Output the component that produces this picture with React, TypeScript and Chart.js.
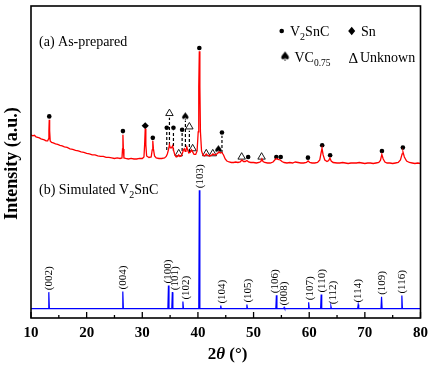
import React, { useEffect, useRef } from 'react';
import { Chart, registerables } from 'chart.js';
Chart.register(...registerables);

// ---------- DATA ----------
const redTheta = [
  10.0, 10.3, 10.6, 10.9, 11.2, 11.5, 11.8, 12.1, 12.4, 12.7, 13.0, 13.15, 13.22, 13.28, 13.35, 13.45, 13.7, 14.0, 14.4, 14.8,
  15.2, 15.6, 16.0, 16.5, 17.0, 17.5, 18.0, 18.5, 19.0, 19.5, 20.0, 20.5, 21.0, 21.5, 22.0, 22.5, 23.0, 23.5, 24.0, 24.5,
  25.0, 25.5, 26.0, 26.35, 26.45, 26.52, 26.6, 26.7, 27.0, 27.5, 28.0, 28.5, 29.0, 29.5, 30.0, 30.3, 30.42, 30.53, 30.64, 30.78,
  31.2, 31.6, 31.78, 31.89, 32.0, 32.2, 32.5, 33.0, 33.5, 34.0, 34.3, 34.5, 34.7, 34.88, 35.05, 35.25, 35.45, 35.65, 35.85, 36.1,
  36.35, 36.55, 36.75, 37.0, 37.2, 37.4, 37.55, 37.7, 37.85, 38.0, 38.15, 38.35, 38.6, 38.85, 39.05, 39.3, 39.6, 39.85, 40.05, 40.15,
  40.25, 40.35, 40.45, 40.65, 40.9, 41.2, 41.5, 41.75, 42.1, 42.4, 42.7, 42.95, 43.3, 43.6, 43.8, 44.0, 44.3, 44.6, 44.9, 45.2,
  45.6, 46.0, 46.4, 46.8, 47.2, 47.6, 47.9, 48.2, 48.5, 48.8, 49.1, 49.5, 50.0, 50.5, 51.0, 51.3, 51.5, 51.7, 52.0, 52.5,
  53.0, 53.5, 53.8, 54.1, 54.4, 54.8, 55.1, 55.5, 56.0, 56.5, 57.0, 57.5, 58.0, 58.5, 59.0, 59.5, 59.8, 60.1, 60.5, 61.0,
  61.5, 61.9, 62.1, 62.3, 62.5, 62.8, 63.2, 63.5, 63.72, 63.95, 64.3, 65.0, 65.5, 66.0, 66.5, 67.0, 67.5, 68.0, 68.5, 69.0,
  69.5, 70.0, 70.5, 71.0, 71.5, 72.0, 72.5, 72.8, 73.05, 73.3, 73.6, 74.0, 74.5, 75.0, 75.5, 76.0, 76.4, 76.7, 76.85, 77.1,
  77.5, 78.0, 78.5, 79.0, 79.5, 80.0,
];
const redIntensity = [
  182, 181, 181.5, 180, 179.5, 179, 178, 177.5, 177, 176, 176, 178, 186, 197, 186, 176, 174.5, 174, 173, 172.5,
  171.5, 171, 170, 169.5, 168, 167.5, 166.5, 166, 165, 164.5, 163.5, 163, 162, 162, 161, 160.5, 160.5, 159.5, 159.5, 159,
  158.5, 159, 158.5, 159, 168, 182, 168, 159, 158.5, 158, 158.5, 158, 158, 158.5, 158.5, 160, 172, 188, 172, 161,
  159.5, 160, 167, 176, 168, 161, 159, 158.5, 158.5, 159, 160.5, 163, 167, 172, 169, 169, 171, 166, 162, 160,
  160.5, 162, 160.5, 161, 163.5, 167, 168, 165.5, 167, 170, 167, 164, 164.5, 167, 165, 162.5, 162.5, 166, 185, 230,
  265, 230, 185, 166, 162, 161, 163, 161.5, 161, 161.5, 163, 162, 162.5, 164, 165, 164, 164.5, 162, 158, 156,
  155, 154.5, 154.5, 155, 154.5, 155, 157, 155.5, 155.5, 156.5, 155, 154.5, 154.5, 154, 154.5, 155.5, 158, 155.5, 154.5, 154,
  154, 155, 157, 158.5, 157.5, 157, 155.5, 154.5, 154, 154.5, 154, 155, 154.5, 154, 154, 154.5, 156, 154.5, 154, 154,
  154.5, 157, 163, 168.5, 162, 157, 155.5, 156.5, 159, 156, 154.5, 154, 154, 154.5, 154, 153.5, 154, 154, 154, 154.5,
  154, 153.5, 154, 154, 153.5, 154, 154.5, 156.5, 162.5, 158, 155, 154, 154, 153.5, 154, 154.5, 157, 163, 165, 160,
  156, 154.5, 154, 153.5, 154, 153.5,
];

const simBaseline = 9.3;
const simTheta = [13.2, 26.5, 34.7, 35.4, 37.3, 40.25, 44.1, 48.8, 54.1, 55.5, 59.9, 62.15, 63.9, 68.8, 73.0, 76.65];
const simIntensity = [25.7, 26.3, 32.3, 25.7, 16.3, 127, 12.3, 13.3, 22.7, 10.5, 15.7, 23.3, 11.7, 13.3, 21, 22.3];
const simLabels = ['(002)', '(004)', '(100)', '(101)', '(102)', '(103)', '(104)', '(105)', '(106)', '(008)', '(107)', '(110)', '(112)', '(114)', '(109)', '(116)'];
const simLabelTheta = [13.2, 26.5, 34.58, 35.78, 37.87, 40.25, 44.19, 48.85, 53.81, 55.47, 60.07, 62.15, 64.12, 68.72, 72.96, 76.65];

const v2sncTheta = [13.28, 26.52, 31.89, 34.4, 35.6, 37.16, 40.25, 44.32, 49.03, 54.09, 54.88, 59.77, 62.33, 63.76, 73.07, 76.83];
const v2sncY = [200.3, 185.7, 179, 189, 189, 187, 268.3, 184.3, 160, 160, 160, 159.3, 171.7, 161.7, 166, 169.3];
const snTheta = [30.53];
const snY = [191];
const vcTheta = [37.75, 43.7];
const vcY = [200, 167.3];
const unknownTheta = [34.88, 36.55, 38.46, 39.05, 41.5, 42.67, 47.86, 51.44];
const unknownY = [203.3, 163.3, 190, 168.3, 163.3, 163.3, 160, 160];

const leaderTheta = [34.4, 34.88, 35.6, 37.16, 37.75, 38.46, 44.32];
const leaderFrom = [167, 172, 166, 166, 170, 165, 164];
const leaderTo = [186, 199, 186, 184, 196, 186, 181];

const xTicks = [10, 20, 30, 40, 50, 60, 70, 80];
const xMinorTicks = [15, 25, 35, 45, 55, 65, 75];

// ---------- HELPERS ----------
const SERIF = '"Liberation Serif", "Times New Roman", serif';

function makeSpade(size: number): HTMLCanvasElement {
  const c = document.createElement('canvas');
  c.width = size;
  c.height = size;
  const g = c.getContext('2d')!;
  g.fillStyle = '#000';
  g.font = `${size}px "DejaVu Sans"`;
  g.textAlign = 'center';
  g.textBaseline = 'middle';
  g.fillText('\u2660', size / 2, size / 2 + 0.5);
  return c;
}

type Part = { t: string; font: string; dy?: number };
function drawParts(ctx: CanvasRenderingContext2D, parts: Part[], x: number, y: number) {
  let cx = x;
  for (const p of parts) {
    ctx.font = p.font;
    ctx.fillText(p.t, cx, y + (p.dy || 0));
    cx += ctx.measureText(p.t).width;
  }
  return cx - x;
}
function measureParts(ctx: CanvasRenderingContext2D, parts: Part[]) {
  let w = 0;
  for (const p of parts) {
    ctx.font = p.font;
    w += ctx.measureText(p.t).width;
  }
  return w;
}

export default function App() {
  const ref = useRef<HTMLCanvasElement>(null);

  useEffect(() => {
    document.body.style.margin = '0';
    const canvas = ref.current!;
    const spade = makeSpade(11);
    const spadeLegend = makeSpade(13);

    const redData = redTheta.map((t, i) => ({ x: t, y: redIntensity[i] }));
    const blueData: { x: number; y: number }[] = [{ x: 10, y: simBaseline }];
    simTheta.forEach((t, i) => {
      blueData.push({ x: t - 0.1, y: simBaseline });
      blueData.push({ x: t, y: simIntensity[i] });
      blueData.push({ x: t + 0.1, y: simBaseline });
    });
    blueData.push({ x: 80, y: simBaseline });

    const leaderSets = leaderTheta.map((t, i) => ({
      type: 'line' as const,
      data: [
        { x: t, y: leaderFrom[i] },
        { x: t, y: leaderTo[i] },
      ],
      borderColor: '#000',
      borderWidth: 1.2,
      borderDash: [3, 2],
      pointRadius: 0,
      fill: false,
    }));

    const decor = {
      id: 'decor',
      afterDatasetsDraw(chart: any) {
        const ctx: CanvasRenderingContext2D = chart.ctx;
        const { left, right, top, bottom } = chart.chartArea;
        const xs = chart.scales.x;
        const ys = chart.scales.y;
        ctx.save();
        ctx.fillStyle = '#000';
        ctx.strokeStyle = '#000';

        // Simulated peak labels (rotated)
        ctx.font = `11px ${SERIF}`;
        ctx.textAlign = 'left';
        ctx.textBaseline = 'middle';
        simLabels.forEach((lab, i) => {
          const x = xs.getPixelForValue(simLabelTheta[i]);
          const y = ys.getPixelForValue(simIntensity[i]) - 2;
          ctx.save();
          ctx.translate(x, y);
          ctx.rotate(-Math.PI / 2);
          ctx.fillText(lab, 0, 0.5);
          ctx.restore();
        });

        // frame
        ctx.lineWidth = 1.6;
        ctx.strokeRect(left, top, right - left, bottom - top);

        // inward ticks
        ctx.lineWidth = 1.3;
        ctx.beginPath();
        xTicks.forEach((v) => {
          const x = xs.getPixelForValue(v);
          ctx.moveTo(x, bottom);
          ctx.lineTo(x, bottom - 6);
        });
        xMinorTicks.forEach((v) => {
          const x = xs.getPixelForValue(v);
          ctx.moveTo(x, bottom);
          ctx.lineTo(x, bottom - 3);
        });
        ctx.stroke();

        // panel labels
        ctx.textAlign = 'left';
        ctx.textBaseline = 'alphabetic';
        const f14 = `14px ${SERIF}`;
        const f10 = `10px ${SERIF}`;
        drawParts(ctx, [{ t: '(a) As-prepared', font: f14 }], 39, 45.5);
        drawParts(ctx, [
          { t: '(b) Simulated V', font: f14 },
          { t: '2', font: f10, dy: 3.5 },
          { t: 'SnC', font: f14 },
        ], 39, 194);

        // legend
        ctx.beginPath();
        ctx.arc(281.7, 31, 2.3, 0, Math.PI * 2);
        ctx.fill();
        drawParts(ctx, [
          { t: 'V', font: f14 },
          { t: '2', font: f10, dy: 4 },
          { t: 'SnC', font: f14 },
        ], 290, 35.5);
        ctx.beginPath();
        ctx.moveTo(351.7, 26.8);
        ctx.lineTo(355.2, 31);
        ctx.lineTo(351.7, 35.2);
        ctx.lineTo(348.2, 31);
        ctx.closePath();
        ctx.fill();
        drawParts(ctx, [{ t: 'Sn', font: f14 }], 361, 35.5);

        ctx.drawImage(spadeLegend, 285 - 6.5, 57.3 - 6.5);
        drawParts(ctx, [
          { t: 'VC', font: f14 },
          { t: '0.75', font: `9.5px ${SERIF}`, dy: 3.5 },
        ], 294.5, 62.3);
        drawParts(ctx, [{ t: '\u0394', font: `15px ${SERIF}` }], 348.5, 62.5);
        drawParts(ctx, [{ t: 'Unknown', font: f14 }], 360, 62.3);

        // axis titles
        const tf = `bold 17px ${SERIF}`;
        const titleParts: Part[] = [
          { t: '2', font: tf },
          { t: '\u03B8', font: `italic bold 17px ${SERIF}` },
          { t: ' (\u00B0)', font: tf },
        ];
        const tw = measureParts(ctx, titleParts);
        drawParts(ctx, titleParts, 227.5 - tw / 2, 359);

        ctx.save();
        ctx.translate(12, 163.5);
        ctx.rotate(-Math.PI / 2);
        ctx.font = `bold 18px ${SERIF}`;
        ctx.textAlign = 'center';
        ctx.textBaseline = 'middle';
        ctx.fillText('Intensity (a.u.)', 0, 0);
        ctx.restore();

        ctx.restore();
      },
    };

    const chart = new Chart(canvas, {
      type: 'line',
      data: {
        datasets: [
          {
            data: blueData,
            borderColor: '#0000ff',
            borderWidth: 1.2,
            pointRadius: 0,
            fill: false,
          },
          {
            data: redData,
            borderColor: '#ff0000',
            borderWidth: 1.3,
            pointRadius: 0,
            fill: false,
          },
          ...leaderSets,
          {
            type: 'scatter' as const,
            data: v2sncTheta.map((t, i) => ({ x: t, y: v2sncY[i] })),
            pointStyle: 'circle',
            pointRadius: 2.3,
            backgroundColor: '#000',
            borderColor: '#000',
            borderWidth: 0,
            showLine: false,
          },
          {
            type: 'scatter' as const,
            data: snTheta.map((t, i) => ({ x: t, y: snY[i] })),
            pointStyle: 'rectRot',
            pointRadius: 3.6,
            backgroundColor: '#000',
            borderColor: '#000',
            borderWidth: 0,
            showLine: false,
          },
          {
            type: 'scatter' as const,
            data: vcTheta.map((t, i) => ({ x: t, y: vcY[i] })),
            pointStyle: spade,
            pointRadius: 5,
            showLine: false,
          },
          {
            type: 'scatter' as const,
            data: unknownTheta.map((t, i) => ({ x: t, y: unknownY[i] })),
            pointStyle: 'triangle',
            pointRadius: 4.3,
            backgroundColor: 'rgba(255,255,255,1)',
            borderColor: '#000',
            borderWidth: 0.9,
            showLine: false,
          },
        ] as any,
      },
      options: {
        animation: false,
        responsive: false,
        maintainAspectRatio: false,
        layout: { padding: { left: 31, right: 12, top: 5, bottom: 18 } },
        plugins: {
          legend: { display: false },
          tooltip: { enabled: false },
        },
        elements: { line: { tension: 0 } },
        scales: {
          x: {
            type: 'linear',
            min: 10,
            max: 80,
            afterBuildTicks: (scale: any) => {
              scale.ticks = xTicks.map((v) => ({ value: v }));
            },
            ticks: {
              color: '#000',
              font: { family: SERIF, size: 15, weight: 'bold' },
              padding: 6,
              maxRotation: 0,
              autoSkip: false,
            },
            grid: { display: false, drawTicks: false },
            border: { display: false },
          },
          y: { display: false, min: 0, max: 310 },
        },
      } as any,
      plugins: [decor],
    });

    return () => chart.destroy();
  }, []);

  return (
    <div style={{ width: 434, height: 366, background: '#fff' }}>
      <canvas ref={ref} width={434} height={366} style={{ display: 'block' }} />
    </div>
  );
}
